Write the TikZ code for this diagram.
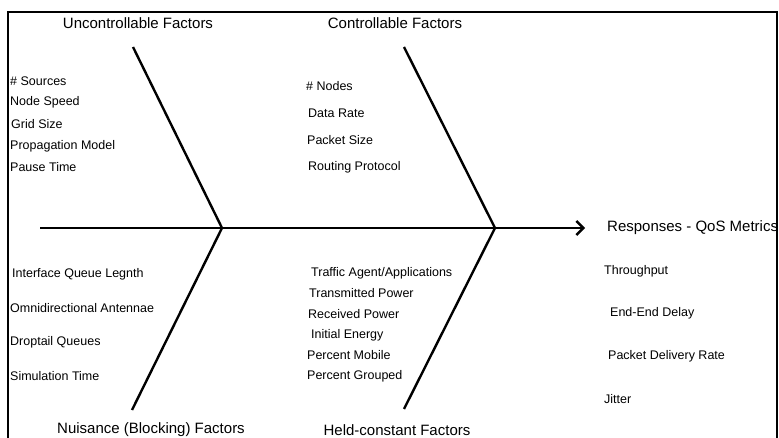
\documentclass[tikz,border=0pt]{standalone}
\usepackage{fontspec}
\setmainfont{Liberation Sans}
\usepackage{tikz}
\usetikzlibrary{arrows.meta,positioning}
\tikzset{
  item/.style={anchor=west,inner sep=0pt,font=\fontsize{12.5}{14}\selectfont},
  head/.style={inner sep=0pt,font=\fontsize{15}{17}\selectfont},
  bone/.style={line width=2.4pt,black},
  spine/.style={bone,-{Straight Barb[length=7pt,width=14pt,line width=2.4pt]}},
  frame/.style={line width=2pt,black}
}

\begin{document}
\begin{tikzpicture}[x=1pt,y=-1pt]
      \useasboundingbox (0,0) rectangle (779,438);
      \draw[frame] (8,438) -- (8,12) -- (777,12) -- (777,438);
      % spine and joints
      \coordinate (tail) at (40,228);
      \coordinate (jl) at (222,228);
      \coordinate (jr) at (495,228);
      \node[head,anchor=west] (resp) at (607,228) {Responses - QoS Metrics};
      \coordinate (tip) at (585,228);
      \draw[spine] (tail) -- (tip);
      % bones
      \coordinate (ul) at (133,47);
      \coordinate (ll) at (132,410);
      \coordinate (ur) at (404,47);
      \coordinate (lr) at (404,409);
      \draw[bone] (ul) -- (jl) -- (ll);
      \draw[bone] (ur) -- (jr) -- (lr);
      % headings
      \node[head] (unc) at (138,23) {Uncontrollable Factors};
      \node[head] (con) at (395,23) {Controllable Factors};
      \node[head] (nui) at (151,430) {Nuisance (Blocking) Factors};
      \node[head] (held) at (397,430) {Held-constant Factors};
      % uncontrollable
      \node[item] (src) at (10,81) {\# Sources};
      \node[item] (spd) at (10,102) {Node Speed};
      \node[item] (grid) at (11,124) {Grid Size};
      \node[item] (prop) at (10,146) {Propagation Model};
      \node[item] (pause) at (10,167) {Pause Time};
      % controllable
      \node[item] (nodes) at (306,86) {\# Nodes};
      \node[item] (rate) at (308,113) {Data Rate};
      \node[item] (psize) at (307,140) {Packet Size};
      \node[item] (rout) at (308,167) {Routing Protocol};
      % nuisance
      \node[item] (ifq) at (12,274) {Interface Queue Legnth};
      \node[item] (omni) at (10,308) {Omnidirectional Antennae};
      \node[item] (drop) at (10,342) {Droptail Queues};
      \node[item] (sim) at (10,376) {Simulation Time};
      % held constant
      \node[item] (traf) at (311,273) {Traffic Agent/Applications};
      \node[item] (tx) at (309,293) {Transmitted Power};
      \node[item] (rx) at (308,314) {Received Power};
      \node[item] (ener) at (311,335) {Initial Energy};
      \node[item] (mob) at (307,355) {Percent Mobile};
      \node[item] (grp) at (307,376) {Percent Grouped};
      % responses
      \node[item] (thr) at (604,271) {Throughput};
      \node[item] (delay) at (610,313) {End-End Delay};
      \node[item] (pdr) at (608,356) {Packet Delivery Rate};
      \node[item] (jit) at (604,399) {Jitter};
    \end{tikzpicture}
\end{document}
